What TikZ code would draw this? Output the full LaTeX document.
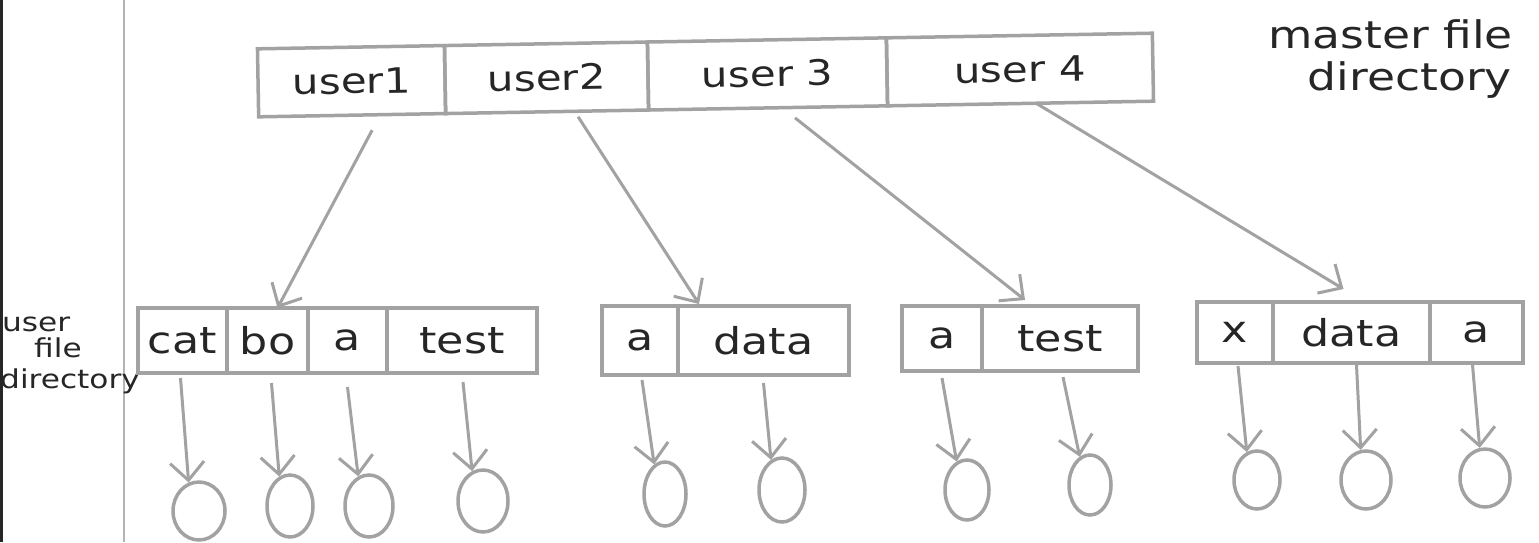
\documentclass[tikz,border=0pt]{standalone}
\usepackage{fontspec}
\newfontfamily\hand[FakeStretch=1.2]{DejaVu Sans}
\usetikzlibrary{arrows.meta,calc,shapes.geometric}

\definecolor{pencil}{HTML}{A2A2A2}
\definecolor{ink}{HTML}{262626}
\definecolor{margin}{HTML}{B4B4B4}

\begin{document}
\begin{tikzpicture}[x=1pt,y=-1pt,
  cell/.style={draw=pencil, line width=3.5pt, inner sep=0pt, outer sep=0pt,
    text=ink, font=\hand\fontsize{37}{37}\selectfont},
  mcell/.style={cell, minimum height=68pt, font=\hand\fontsize{35}{35}\selectfont},
  link/.style={draw=pencil, line width=3pt,
    -{Straight Barb[length=18pt,width=34pt,line width=3pt]}},
  file/.style={ellipse, draw=pencil, line width=3.5pt, inner sep=0pt},
  note/.style={text=ink, inner sep=0pt}
]
\useasboundingbox (0,0) rectangle (1539,542);
\fill[white] (0,0) rectangle (1539,542);

% page edge and margin rule
\fill[black!85] (0,0) rectangle (3,542);
\draw[margin, line width=2pt] (124,0) -- (124,542);

% master file directory (slightly tilted row)
\begin{scope}[rotate around={1:(706,75)}, transform shape]
  \node[mcell, minimum width=187pt] (m1) at (351.5,75) {user1};
  \node[mcell, minimum width=203pt] (m2) at (546.5,75) {user2};
  \node[mcell, minimum width=239pt] (m3) at (767.5,75) {user 3};
  \node[mcell, minimum width=266pt] (m4) at (1020,75) {user 4};
\end{scope}

\node[note, anchor=base east, font=\hand\fontsize{38}{38}\selectfont] (mfd1) at (1513,48) {master file};
\node[note, anchor=base east, font=\hand\fontsize{38}{38}\selectfont] (mfd2) at (1512,90) {directory};

% user file directory label
\node[note, anchor=base west, font=\hand\fontsize{26}{26}\selectfont] (ufd1) at (2,331) {user};
\node[note, anchor=base west, font=\hand\fontsize{26}{26}\selectfont] (ufd2) at (34,357) {file};
\node[note, anchor=base west, font=\hand\fontsize{26}{26}\selectfont] (ufd3) at (0,388) {directory};

% user file directories
\node[cell, minimum width=89pt,  minimum height=65pt] (a1) at (182.5,340.5) {cat};
\node[cell, minimum width=81pt,  minimum height=65pt] (a2) at (267.5,340.5) {bo};
\node[cell, minimum width=79pt,  minimum height=65pt] (a3) at (347.5,340.5) {a};
\node[cell, minimum width=150pt, minimum height=65pt] (a4) at (462,340.5) {test};

\node[cell, minimum width=76pt,  minimum height=69pt] (b1) at (640,340.5) {a};
\node[cell, minimum width=171pt, minimum height=69pt] (b2) at (763.5,340.5) {data};

\node[cell, minimum width=80pt,  minimum height=65pt] (c1) at (942,338.5) {a};
\node[cell, minimum width=156pt, minimum height=65pt] (c2) at (1060,338.5) {test};

\node[cell, minimum width=76pt,  minimum height=61pt] (d1) at (1235,332.5) {x};
\node[cell, minimum width=157pt, minimum height=61pt] (d2) at (1351.5,332.5) {data};
\node[cell, minimum width=93pt,  minimum height=61pt] (d3) at (1476.5,332.5) {a};

% files
\node[file, minimum width=52pt, minimum height=58pt] (fa1) at (199,511) {};
\node[file, minimum width=46pt, minimum height=62pt] (fa2) at (290,506) {};
\node[file, minimum width=48pt, minimum height=62pt] (fa3) at (369,506) {};
\node[file, minimum width=50pt, minimum height=62pt] (fa4) at (483,501) {};
\node[file, minimum width=42pt, minimum height=64pt] (fb1) at (665,494) {};
\node[file, minimum width=46pt, minimum height=64pt] (fb2) at (782,490) {};
\node[file, minimum width=44pt, minimum height=60pt] (fc1) at (967,490) {};
\node[file, minimum width=42pt, minimum height=60pt] (fc2) at (1090,485) {};
\node[file, minimum width=46pt, minimum height=58pt] (fd1) at (1257,480) {};
\node[file, minimum width=50pt, minimum height=58pt] (fd2) at (1366,480) {};
\node[file, minimum width=50pt, minimum height=58pt] (fd3) at (1485,478) {};

% master entries point to user directories
\draw[link] ($(m1.south)+(20,15)$) -- ($(a2.north)+(10,0)$);
\draw[link] ($(m2.south)+(31,5)$)  -- ($(b2.north west)+(21,-2)$);
\draw[link] ($(m3.south)+(27,10)$) -- ($(c2.north)+(-35,-6)$);
\draw[link] ($(m4.south)+(16,0)$)  -- ($(d2.north)+(-8,-13)$);

% directory entries point to files
\draw[link] ($(a1.south)+(-2,5)$) -- (fa1.110);
\draw[link] ($(a2.south)+(4,10)$) -- (fa2.110);
\draw[link] ($(a3.south)+(0,14)$) -- (fa3.110);
\draw[link] ($(a4.south)+(1,9)$)  -- (fa4.110);
\draw[link] ($(b1.south)+(2,5)$)  -- (fb1.110);
\draw[link] ($(b2.south)+(0,8)$)  -- (fb2.110);
\draw[link] ($(c1.south)+(0,7)$)  -- (fc1.110);
\draw[link] ($(c2.south)+(3,6)$)  -- (fc2.110);
\draw[link] ($(d1.south)+(3,3)$)  -- (fd1.110);
\draw[link] ($(d2.south)+(5,2)$)  -- (fd2.100);
\draw[link] ($(d3.south)+(-4,2)$) -- (fd3.100);
\end{tikzpicture}
\end{document}
